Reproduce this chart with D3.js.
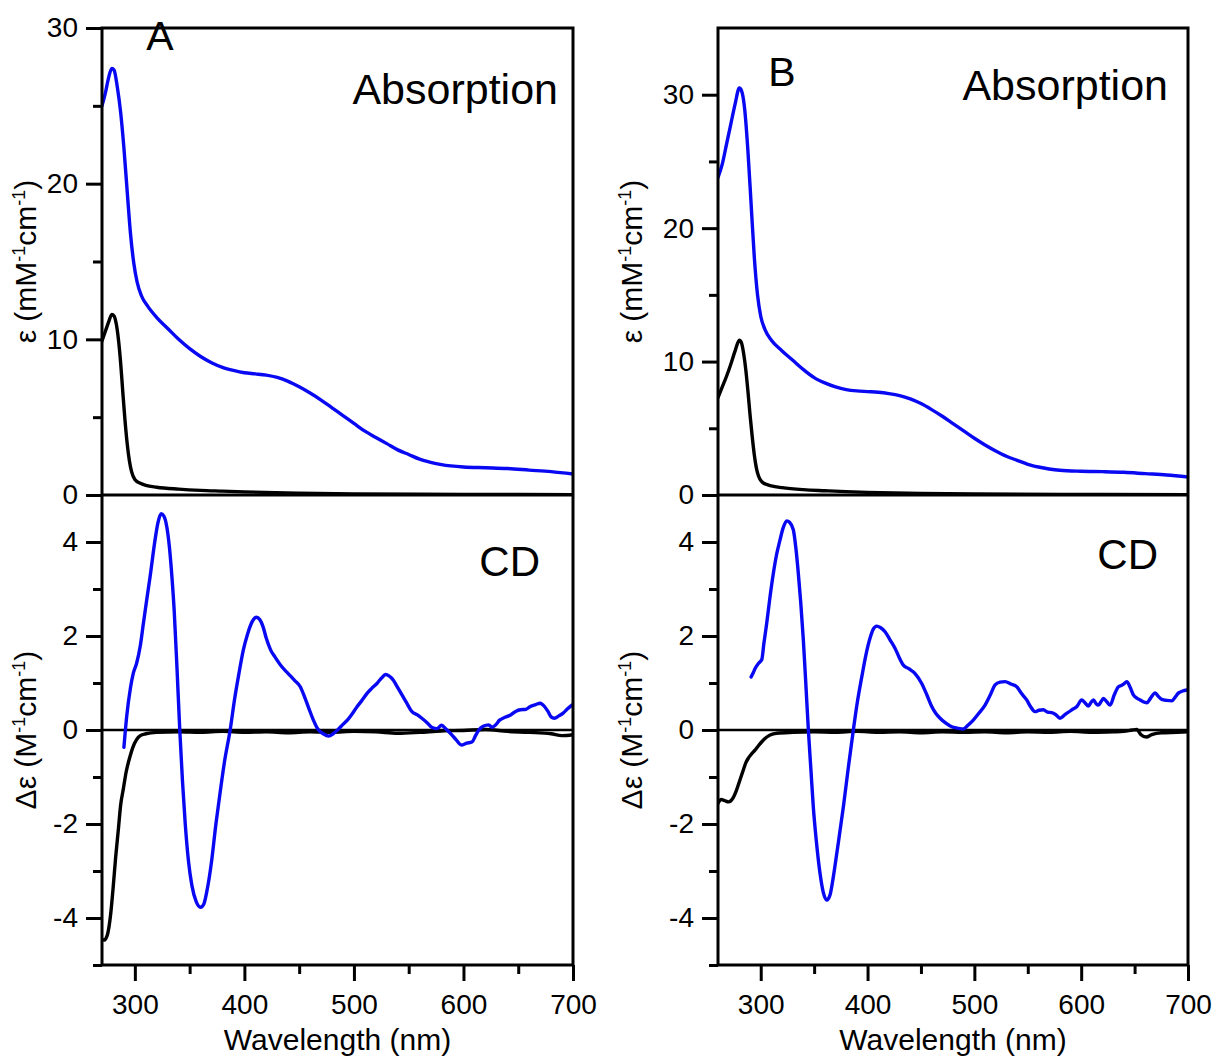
<!DOCTYPE html>
<html><head><meta charset="utf-8">
<script src="https://cdn.jsdelivr.net/npm/d3@7"></script>
<style>
body{margin:0;background:#fff}
svg text{font-family:"Liberation Sans",Arial,sans-serif;fill:#000}
</style>
</head><body>
<svg id="c" width="1218" height="1059"></svg>
<script>
// ---------------- DATA ----------------
const xTicks = [300, 400, 500, 600, 700];
const xMinor = [350, 450, 550, 650];
const absTicks = [0, 10, 20, 30];
const absMinor = [5, 15, 25];
const cdTicks = [-4, -2, 0, 2, 4];
const cdMinor = [-5, -3, -1, 1, 3];
const cdDomain = [-5, 5];

// Panel A absorption (wavelength nm, epsilon mM-1cm-1)
const absA_blue = [[270,25.0],[273,25.8],[276,26.8],[279,27.4],[281,27.3],[284,26.2],[287,24.6],[290,22.3],[293,19.5],[296,16.8],[299,14.9],[302,13.7],[306,12.8],[312,12.1],[320,11.4],[330,10.7],[340,10.0],[350,9.4],[360,8.9],[370,8.5],[380,8.2],[390,8.0],[400,7.85],[410,7.78],[420,7.7],[430,7.55],[440,7.3],[450,6.95],[460,6.55],[470,6.1],[480,5.6],[490,5.1],[500,4.6],[510,4.1],[520,3.7],[530,3.3],[540,2.9],[550,2.6],[560,2.3],[570,2.1],[580,1.95],[600,1.8],[620,1.75],[640,1.7],[660,1.6],[680,1.5],[700,1.35]];
const absA_black = [[270,9.9],[273,10.5],[276,11.1],[279,11.6],[281,11.5],[283,11.0],[285,10.0],[287,8.5],[289,6.6],[291,4.8],[293,3.3],[295,2.2],[297,1.5],[300,1.0],[305,0.75],[310,0.62],[320,0.5],[340,0.38],[360,0.3],[380,0.25],[400,0.2],[450,0.12],[500,0.07],[600,0.04],[700,0.02]];

// Panel A CD (wavelength nm, delta epsilon M-1cm-1)
const cdA_blue = [[290,-0.37],[292.5,0.28],[296,0.9],[298.6,1.21],[301.6,1.42],[305,1.8],[307.8,2.27],[311,2.8],[313.9,3.26],[318.4,4.04],[321,4.4],[323.9,4.6],[326.5,4.55],[329.1,4.33],[331.5,3.9],[333.7,3.3],[336,2.5],[338.5,1.3],[341,0],[343.5,-1.1],[346,-2.0],[349,-2.8],[352,-3.3],[356,-3.65],[360,-3.77],[363,-3.7],[366,-3.4],[370,-2.8],[374,-2.0],[378,-1.3],[382,-0.65],[387,0],[391,0.65],[395,1.2],[399,1.7],[403,2.05],[407,2.3],[411,2.4],[414,2.35],[417,2.2],[420,1.95],[424,1.7],[428,1.55],[434,1.35],[440,1.2],[446,1.05],[451,0.92],[455,0.7],[459,0.45],[463,0.21],[467,0.02],[472,-0.08],[477,-0.13],[481,-0.08],[485,0],[490,0.12],[494,0.21],[498,0.33],[503,0.5],[507,0.62],[512,0.78],[516,0.88],[521,0.99],[525,1.1],[529,1.18],[532,1.15],[536,1.06],[540,0.9],[544,0.74],[548,0.58],[553,0.39],[558,0.32],[562,0.25],[567,0.15],[571,0.06],[576,0.03],[580,0.1],[584,0.02],[588,-0.07],[593,-0.2],[598,-0.32],[603,-0.28],[608,-0.25],[611,-0.12],[614,0],[618,0.08],[623,0.11],[626,0.06],[629,0.1],[633,0.21],[638,0.27],[643,0.32],[648,0.4],[652,0.43],[657,0.44],[661,0.5],[666,0.54],[670,0.57],[674,0.5],[677,0.4],[680,0.28],[683,0.25],[687,0.3],[691,0.36],[695,0.45],[699,0.53]];
const cdA_black = [[270,-4.45],[272,-4.47],[275,-4.35],[278,-3.9],[280,-3.4],[282.5,-2.7],[285,-2.1],[287,-1.6],[289.5,-1.25],[292,-0.9],[295.5,-0.57],[298,-0.38],[301.7,-0.2],[305,-0.12],[310,-0.08],[320,-0.05],[340,-0.04],[360,-0.05],[380,-0.03],[400,-0.05],[420,-0.04],[440,-0.06],[460,-0.04],[480,-0.05],[500,-0.03],[520,-0.04],[540,-0.07],[560,-0.05],[580,-0.02],[600,-0.01],[620,0.01],[640,-0.03],[660,-0.05],[680,-0.08],[690,-0.12],[700,-0.1]];

// Panel B absorption
const absB_blue = [[260,23.8],[264,24.8],[268,26.3],[272,27.8],[276,29.3],[280,30.5],[282,30.3],[285,28.9],[288,25.8],[291,21.8],[294,17.8],[297,15.0],[300,13.4],[304,12.4],[310,11.6],[320,10.8],[330,10.1],[340,9.4],[350,8.8],[360,8.4],[370,8.1],[380,7.9],[390,7.8],[400,7.75],[410,7.7],[420,7.6],[430,7.45],[440,7.2],[450,6.85],[460,6.4],[470,5.9],[480,5.35],[490,4.8],[500,4.25],[510,3.75],[520,3.3],[530,2.9],[540,2.6],[550,2.3],[560,2.1],[570,1.95],[580,1.85],[600,1.78],[620,1.75],[640,1.7],[660,1.6],[680,1.5],[700,1.35]];
const absB_black = [[260,7.3],[264,8.1],[268,8.9],[272,9.8],[276,10.8],[280,11.6],[282,11.4],[284,10.6],[286,9.4],[288,7.8],[290,6.0],[292,4.4],[294,3.0],[296,2.0],[298,1.4],[301,1.0],[305,0.8],[310,0.68],[320,0.55],[340,0.4],[360,0.32],[380,0.25],[400,0.2],[450,0.12],[500,0.07],[600,0.04],[700,0.02]];

// Panel B CD
const cdB_blue = [[291,1.13],[293,1.22],[295,1.32],[298,1.42],[301,1.5],[303,1.85],[305.6,2.27],[308.5,2.8],[311.8,3.33],[315,3.75],[318,4.04],[321,4.3],[324.3,4.45],[327,4.42],[330.5,4.26],[333,3.85],[335.2,3.33],[337.5,2.7],[339.9,1.91],[342.3,0.95],[344.6,0],[347,-0.85],[349.2,-1.63],[352,-2.35],[355.5,-3.05],[358.5,-3.45],[361.8,-3.62],[365,-3.5],[368,-3.12],[372,-2.5],[377.4,-1.63],[382,-0.8],[386.7,0],[390.5,0.6],[394.6,1.13],[398.5,1.6],[402.3,1.95],[405.5,2.15],[408.6,2.21],[412,2.18],[416.4,2.09],[421,1.92],[425.7,1.74],[429.5,1.55],[433.5,1.38],[439,1.3],[444.5,1.2],[450.7,0.99],[455.5,0.75],[460.1,0.5],[464,0.35],[467.9,0.25],[473,0.15],[478.8,0.07],[484,0.04],[489.7,0.02],[494,0.1],[499,0.21],[504,0.35],[510,0.53],[515,0.75],[519.4,0.96],[524,1.02],[528.7,1.03],[534,0.98],[539.7,0.92],[544,0.78],[549,0.64],[552.5,0.5],[556.8,0.39],[560.5,0.42],[564.6,0.43],[568.5,0.38],[572.4,0.37],[576,0.33],[580.2,0.25],[585,0.33],[591.2,0.43],[596,0.5],[600.5,0.64],[603.5,0.58],[606.8,0.51],[609,0.58],[611.5,0.64],[614,0.56],[616.2,0.53],[618.5,0.6],[620.8,0.67],[624,0.6],[627.1,0.53],[631,0.75],[634.9,0.92],[638,0.95],[640,0.98],[642.7,1.03],[646,0.9],[649,0.74],[652,0.68],[655.2,0.64],[658,0.6],[661.5,0.58],[665,0.68],[669.3,0.79],[672,0.72],[675.5,0.65],[680,0.63],[684.9,0.62],[688,0.7],[691.2,0.79],[695,0.83],[699,0.85]];
const cdB_black = [[260,-1.56],[263,-1.48],[266,-1.5],[270,-1.53],[274,-1.45],[277,-1.3],[280,-1.1],[283.7,-0.85],[286,-0.7],[288.4,-0.6],[291,-0.52],[294.6,-0.43],[298,-0.33],[301,-0.25],[304,-0.18],[307,-0.13],[311,-0.09],[315,-0.07],[330,-0.05],[350,-0.04],[370,-0.05],[390,-0.03],[410,-0.05],[430,-0.04],[450,-0.06],[470,-0.04],[490,-0.05],[510,-0.04],[530,-0.06],[550,-0.04],[570,-0.05],[590,-0.03],[610,-0.05],[630,-0.04],[640,-0.03],[648,0.0],[652,0.01],[656,-0.1],[661,-0.15],[666,-0.1],[675,-0.06],[690,-0.05],[700,-0.04]];

// ---------------- DRAW ----------------
const BLUE = "#0808f2";
const svg = d3.select("#c");
const defs = svg.append("defs");

function title(g, x, y, main) {
  const t = g.append("text").attr("transform", `translate(${x},${y}) rotate(-90)`)
    .attr("text-anchor", "middle").attr("font-size", 30);
  t.append("tspan").text(main);
  t.append("tspan").attr("font-size", 18).attr("dy", -11).text("-1");
  t.append("tspan").attr("dy", 11).text("cm");
  t.append("tspan").attr("font-size", 18).attr("dy", -11).text("-1");
  t.append("tspan").attr("dy", 11).text(")");
}

function panel(o) {
  const x = d3.scaleLinear().domain(o.xDomain).range([o.left, o.right]);
  const yU = d3.scaleLinear().domain(o.absDomain).range([o.mid, o.top]);
  const yL = d3.scaleLinear().domain(cdDomain).range([o.bottom, o.mid]);
  const g = svg.append("g");

  defs.append("clipPath").attr("id", "cu" + o.name).append("rect")
    .attr("x", o.left).attr("y", o.top).attr("width", o.right - o.left).attr("height", o.mid - o.top);
  defs.append("clipPath").attr("id", "cl" + o.name).append("rect")
    .attr("x", o.left).attr("y", o.mid).attr("width", o.right - o.left).attr("height", o.bottom - o.mid);

  const lineU = d3.line().x(d => x(d[0])).y(d => yU(d[1])).curve(d3.curveMonotoneX);
  const lineL = d3.line().x(d => x(d[0])).y(d => yL(d[1])).curve(d3.curveMonotoneX);

  // CD zero line
  g.append("line").attr("x1", o.left).attr("x2", o.right).attr("y1", yL(0)).attr("y2", yL(0))
    .attr("stroke", "#000").attr("stroke-width", 2.5);

  const cu = g.append("g").attr("clip-path", `url(#cu${o.name})`);
  const cl = g.append("g").attr("clip-path", `url(#cl${o.name})`);
  [[o.absBlack, "#000", cu, lineU], [o.absBlue, BLUE, cu, lineU],
   [o.cdBlack, "#000", cl, lineL], [o.cdBlue, BLUE, cl, lineL]].forEach(([d, c, gg, ln]) => {
    gg.append("path").datum(d).attr("d", ln).attr("fill", "none").attr("stroke", c)
      .attr("stroke-width", 3.4).attr("stroke-linecap", "round").attr("stroke-linejoin", "round");
  });

  // frame
  g.append("rect").attr("x", o.left).attr("y", o.top).attr("width", o.right - o.left)
    .attr("height", o.bottom - o.top).attr("fill", "none").attr("stroke", "#000").attr("stroke-width", 3);
  g.append("line").attr("x1", o.left).attr("x2", o.right).attr("y1", o.mid).attr("y2", o.mid)
    .attr("stroke", "#000").attr("stroke-width", 3);

  const style = sel => {
    sel.select(".domain").remove();
    sel.selectAll(".tick line").attr("stroke", "#000").attr("stroke-width", 3);
    sel.selectAll(".tick text").attr("font-size", 28).attr("fill", "#000")
      .attr("font-family", '"Liberation Sans",Arial,sans-serif');
  };
  const fmt = d => String(d);

  g.append("g").attr("transform", `translate(${o.left},0)`)
    .call(d3.axisLeft(yU).tickValues(absTicks).tickSize(16).tickPadding(8).tickFormat(fmt)).call(style);
  g.append("g").attr("transform", `translate(${o.left},0)`)
    .call(d3.axisLeft(yU).tickValues(absMinor).tickSize(9).tickFormat("")).call(style);
  g.append("g").attr("transform", `translate(${o.left},0)`)
    .call(d3.axisLeft(yL).tickValues(cdTicks).tickSize(16).tickPadding(8).tickFormat(fmt)).call(style);
  g.append("g").attr("transform", `translate(${o.left},0)`)
    .call(d3.axisLeft(yL).tickValues(cdMinor).tickSize(9).tickFormat("")).call(style);
  g.append("g").attr("transform", `translate(0,${o.bottom})`)
    .call(d3.axisBottom(x).tickValues(xTicks).tickSize(16).tickPadding(13).tickFormat(fmt)).call(style);
  g.append("g").attr("transform", `translate(0,${o.bottom})`)
    .call(d3.axisBottom(x).tickValues(xMinor).tickSize(9).tickFormat("")).call(style);

  g.append("text").attr("x", (o.left + o.right) / 2).attr("y", 1050).attr("text-anchor", "middle")
    .attr("font-size", 30).text("Wavelength (nm)");
  title(g, o.titleX, (o.top + o.mid) / 2, "\u03b5 (mM");
  title(g, o.titleX, (o.mid + o.bottom) / 2, "\u0394\u03b5 (M");

  g.append("text").attr("x", o.letterX).attr("y", o.letterY).attr("text-anchor", "middle")
    .attr("font-size", 41).text(o.name);
  g.append("text").attr("x", o.absX).attr("y", o.absY).attr("text-anchor", "end")
    .attr("font-size", 43).text("Absorption");
  g.append("text").attr("x", o.cdX).attr("y", o.cdY).attr("text-anchor", "end")
    .attr("font-size", 42).text("CD");
}

panel({name: "A", left: 102, right: 573, top: 28, mid: 495, bottom: 965,
  xDomain: [270, 700], absDomain: [0, 30], titleX: 36,
  absBlue: absA_blue, absBlack: absA_black, cdBlue: cdA_blue, cdBlack: cdA_black,
  letterX: 160, letterY: 50, absX: 558, absY: 104, cdX: 540, cdY: 576});
panel({name: "B", left: 718, right: 1188, top: 28, mid: 495, bottom: 965,
  xDomain: [260, 700], absDomain: [0, 35], titleX: 642,
  absBlue: absB_blue, absBlack: absB_black, cdBlue: cdB_blue, cdBlack: cdB_black,
  letterX: 782, letterY: 86, absX: 1168, absY: 100, cdX: 1158, cdY: 569});
</script>
</body></html>
